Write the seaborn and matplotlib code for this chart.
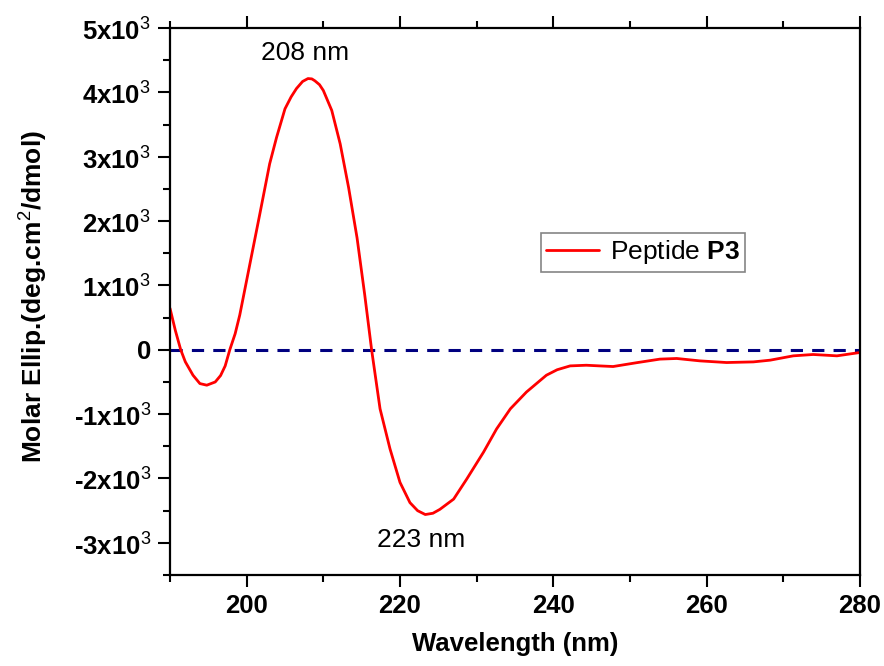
import seaborn as sns
import matplotlib.pyplot as plt
import matplotlib
from matplotlib.ticker import MultipleLocator, FixedLocator, FuncFormatter
import pandas as pd
import numpy as np

## Data
wavelength = [190.0, 190.7, 191.4, 192.0, 193.0, 193.9, 194.8, 195.9, 196.6, 197.2,
              197.8, 198.5, 199.1, 200.4, 201.7, 203.0, 203.9, 205.0, 205.8, 206.5,
              207.3, 208.0, 208.5, 208.9, 209.5, 210.0, 211.1, 212.2, 213.3, 214.4,
              215.4, 216.3, 217.4, 218.7, 220.0, 221.3, 222.3, 223.3, 224.3, 225.2,
              227.0, 228.7, 230.9, 232.6, 234.4, 236.5, 238.3, 239.1, 240.5, 242.2,
              244.3, 246.0, 247.8, 250.9, 253.9, 256.1, 259.1, 262.6, 266.1, 268.3,
              271.3, 273.9, 277.0, 280.0]
ellipticity = [645, 300, 0, -187, -395, -525, -550, -500, -400, -250,
               0, 250, 540, 1320, 2100, 2890, 3300, 3745, 3930, 4060,
               4170, 4215, 4210, 4180, 4120, 4030, 3720, 3200, 2520, 1740,
               855, 0, -917, -1540, -2060, -2375, -2500, -2560, -2540, -2480,
               -2320, -2010, -1590, -1230, -917, -656, -475, -395, -310, -250,
               -240, -250, -260, -200, -145, -135, -172, -198, -188, -161,
               -94, -73, -94, -42]
series_label = "Peptide $\\mathbf{P3}$"
peaks = [(208, "208 nm", 207.6, 4610), (223, "223 nm", 222.7, -2950)]

df = pd.DataFrame({"wavelength": wavelength, "ellipticity": ellipticity})

sns.set_style("white")
plt.rcParams['font.family'] = ['Liberation Sans', 'DejaVu Sans']
plt.rcParams['mathtext.fontset'] = 'custom'
plt.rcParams['mathtext.rm'] = 'Liberation Sans'
plt.rcParams['mathtext.bf'] = 'Liberation Sans:bold'
plt.rcParams['text.color'] = 'black'
plt.rcParams['axes.labelcolor'] = 'black'
plt.rcParams['xtick.color'] = 'black'
plt.rcParams['ytick.color'] = 'black'

fig = plt.figure(figsize=(8.84, 6.66), dpi=100)
ax = fig.add_axes([0.1923, 0.1366, 0.7805, 0.8213])

ax.axhline(0, color="#000080", lw=2.2, dashes=(4, 3), zorder=1)
sns.lineplot(data=df, x="wavelength", y="ellipticity", color="red", lw=2,
             label=series_label, ax=ax, zorder=2)

ax.set_xlim(190, 280)
ax.set_ylim(-3500, 5000)

ax.xaxis.set_major_locator(MultipleLocator(20))
ax.xaxis.set_minor_locator(MultipleLocator(10))
ax.yaxis.set_major_locator(FixedLocator([-3000, -2000, -1000, 0, 1000, 2000, 3000, 4000, 5000]))
ax.yaxis.set_minor_locator(MultipleLocator(500))

def ylab(v, pos):
    k = int(round(v / 1000))
    if k == 0:
        return "0"
    return f"{k}x10$^{{3}}$"

ax.yaxis.set_major_formatter(FuncFormatter(ylab))

for s in ax.spines.values():
    s.set_linewidth(1.6)
    s.set_color("black")

ax.tick_params(which="both", direction="out", width=1.5, top=True, right=False,
               bottom=True, left=True, labeltop=False)
ax.tick_params(which="major", length=8.5, labelsize=18.5, pad=5)
ax.tick_params(which="minor", length=5)
for lab in ax.get_xticklabels() + ax.get_yticklabels():
    lab.set_fontweight("bold")

ax.set_xlabel("Wavelength (nm)", fontsize=18.5, fontweight="bold", labelpad=10)
ax.set_ylabel("Molar Ellip.(deg.cm$^{2}$/dmol)", fontsize=19, fontweight="bold")
ax.yaxis.set_label_coords(-0.175, 0.51)

for _, txt, tx, ty in peaks:
    ax.text(tx, ty, txt, fontsize=19, ha="center", va="center")

leg = ax.legend(loc="upper left", bbox_to_anchor=(0.538, 0.625), borderaxespad=0,
                fontsize=19, frameon=True, fancybox=False, handlelength=2.0,
                borderpad=0.2, handletextpad=0.4)
leg.get_frame().set_edgecolor("#666666")
leg.get_frame().set_linewidth(1.2)

fig.savefig("out.png", dpi=100)
